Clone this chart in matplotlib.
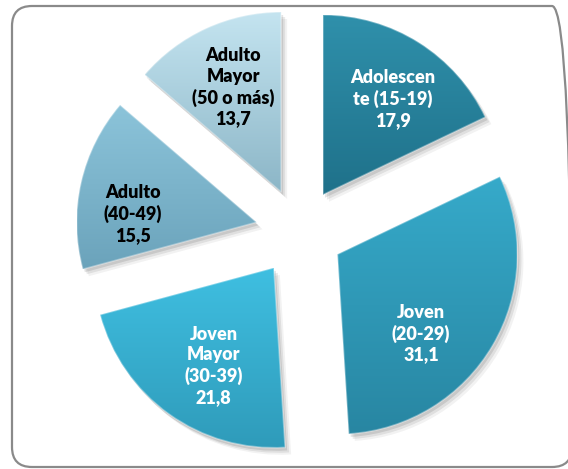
import numpy as np
import matplotlib
matplotlib.use("Agg")
import matplotlib.pyplot as plt
from matplotlib.patches import FancyBboxPatch
from matplotlib.colors import LinearSegmentedColormap

# Age groups and their share (%)
categories = ["Adolescen\nte (15-19)", "Joven\n(20-29)", "Joven\nMayor\n(30-39)",
              "Adulto\n(40-49)", "Adulto\nMayor\n(50 o más)"]
values = [17.9, 31.1, 21.8, 15.5, 13.7]
value_labels = ["17,9", "31,1", "21,8", "15,5", "13,7"]

# Fill gradients (top -> bottom) and label colours per slice
top_colors = ["#2f90ab", "#36aaca", "#3fbfe1", "#8cc4da", "#c4e4f0"]
bottom_colors = ["#1f718a", "#2886a2", "#2f9bba", "#6ba3bb", "#8cb6c7"]
text_colors = ["white", "white", "white", "black", "black"]
# label placement inside each slice: clockwise turn (deg) and radial fraction
label_turn = [4, 13, -4, -9, 0]
label_frac = [0.66, 0.64, 0.64, 0.69, 0.64]

W, H = 568, 469
fig = plt.figure(figsize=(W / 100, H / 100), dpi=100)
ax = fig.add_axes([0, 0, 1, 1])

R = 180
center = (299.5, 237)
explode = [44] * len(values)

# soft drop shadow underneath the slices
for (dx, dy, a) in [(2, -3, 0.10), (4, -5, 0.08), (6, -7, 0.05)]:
    ax.pie(values, radius=R, center=(center[0] + dx, center[1] + dy),
           explode=explode, startangle=90, counterclock=False,
           colors=["#000000"] * len(values),
           wedgeprops=dict(alpha=a, linewidth=0))

wedges, _ = ax.pie(values, radius=R, center=center, explode=explode,
                   startangle=90, counterclock=False, colors=top_colors,
                   wedgeprops=dict(linewidth=0))

for w, c1, c2 in zip(wedges, top_colors, bottom_colors):
    ext = w.get_path().get_extents()
    cmap = LinearSegmentedColormap.from_list("g", [c2, c1])
    grad = np.linspace(0, 1, 256).reshape(-1, 1)
    im = ax.imshow(grad, cmap=cmap, origin="lower", aspect="auto",
                   extent=[ext.x0, ext.x1, ext.y0, ext.y1], zorder=2,
                   interpolation="bilinear")
    im.set_clip_path(w)
    w.set_zorder(3)
    w.set_facecolor("none")
    w.set_edgecolor((1, 1, 1, 0.35))
    w.set_linewidth(1.2)

# labels inside each slice
for w, cat, val, tc, turn, frac in zip(wedges, categories, value_labels,
                                       text_colors, label_turn, label_frac):
    mid = np.deg2rad(0.5 * (w.theta1 + w.theta2) - turn)
    cx, cy = w.center
    tx = cx + frac * w.r * np.cos(mid)
    ty = cy + frac * w.r * np.sin(mid)
    ax.text(tx, ty, f"{cat}\n{val}", ha="center", va="center",
            color=tc, fontsize=13, fontweight="heavy", family="Lato",
            linespacing=1.25, zorder=5)

# rounded chart border
border = FancyBboxPatch((12, 2), 560, 461,
                        boxstyle="round,pad=0,rounding_size=20",
                        facecolor="none", edgecolor="#8a8a8a", linewidth=1.6,
                        zorder=1, clip_on=False)
ax.add_patch(border)

ax.set_xlim(0, W)
ax.set_ylim(0, H)
ax.axis("off")

fig.savefig("out.png", dpi=100)
